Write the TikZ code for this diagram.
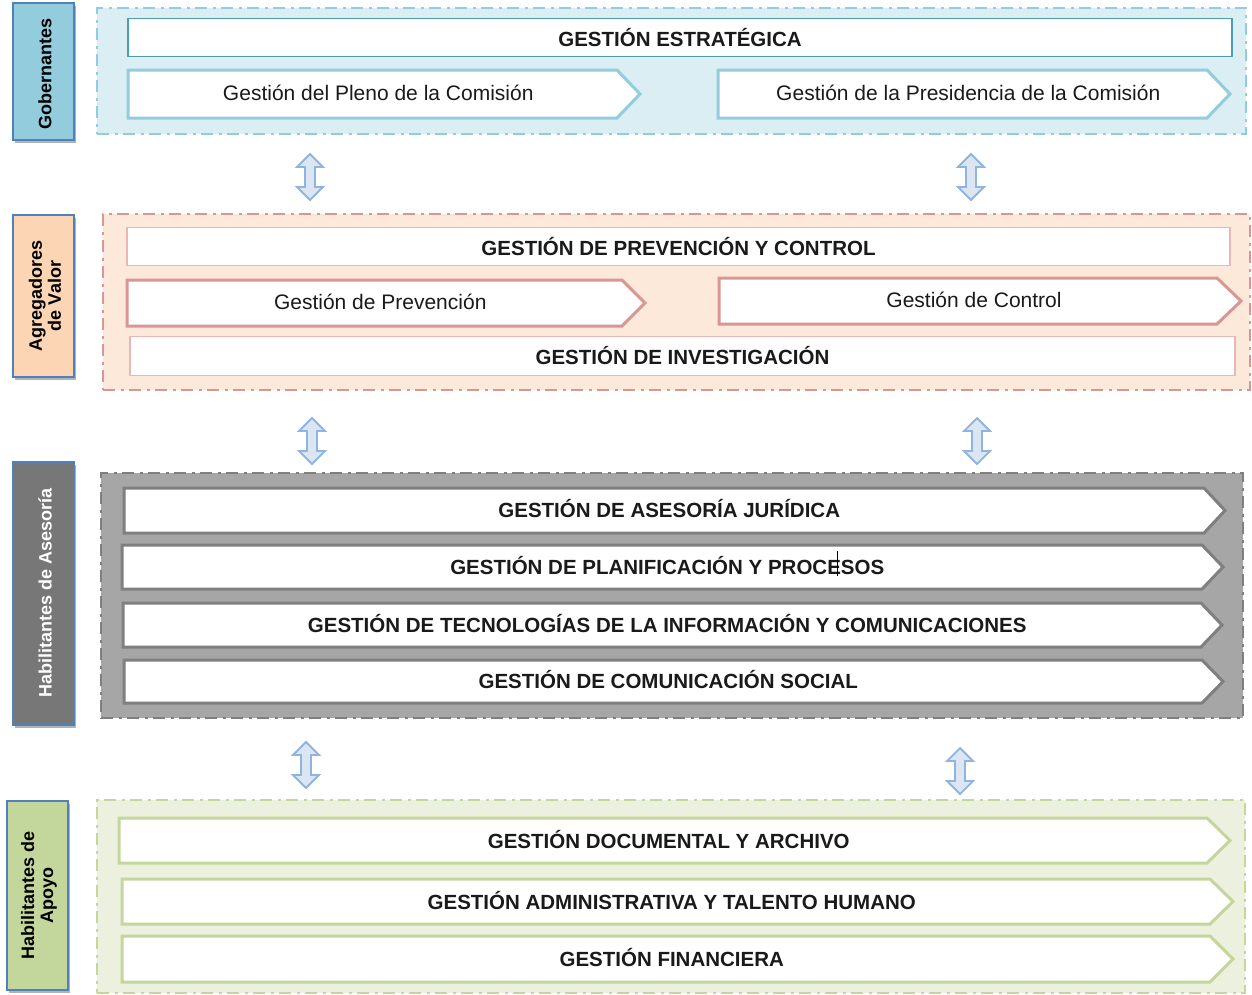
\documentclass[tikz,border=0pt]{standalone}
\usepackage{fontspec}
\setmainfont{Liberation Sans}
\usetikzlibrary{shadows}
\definecolor{blueFill}{HTML}{DAEEF3}
\definecolor{blueLine}{HTML}{93CDDD}
\definecolor{blueDark}{HTML}{4A9DB3}
\definecolor{lblBlue}{HTML}{93CDDD}
\definecolor{lblBorder}{HTML}{4F81BD}
\definecolor{peachFill}{HTML}{FDE9D9}
\definecolor{peachLine}{HTML}{D99694}
\definecolor{peachThin}{HTML}{E6B9B8}
\definecolor{lblPeach}{HTML}{FCD5B5}
\definecolor{grayFill}{HTML}{A6A6A6}
\definecolor{grayLine}{HTML}{7F7F7F}
\definecolor{lblGray}{HTML}{777777}
\definecolor{greenFill}{HTML}{EBF1DE}
\definecolor{greenLine}{HTML}{C3D69B}
\definecolor{lblGreen}{HTML}{C3D69B}
\definecolor{arrFill}{HTML}{DCE6F2}
\definecolor{arrLine}{HTML}{8EB4E3}
\definecolor{txtCol}{HTML}{1A1A1A}

% rectangle node from corners
\newcommand\rectnode[7]{\node[#2, minimum width={(#5-#3)*1pt}, minimum height={(#6-#4)*1pt}] (#1) at ({(#3+#5)/2},{(#4+#6)/2}) {#7};}
% pentagon (chevron) arrow with a named text node
\newcommand\pentnode[8]{%
  \draw[#2] (#3,#4) -- (#5-#8,#4) -- (#5,{(#4+#6)/2}) -- (#5-#8,#6) -- (#3,#6) -- cycle;
  \node[txt] (#1) at ({(#3+#5-#8/2)/2},{(#4+#6)/2}) {#7};}
% vertical double block arrow
\newcommand\vdbl[3]{\draw[dblarr] (#1,#2) -- (#1+13,#2+13) -- (#1+5,#2+13) -- (#1+5,#3-13) -- (#1+13,#3-13) -- (#1,#3) -- (#1-13,#3-13) -- (#1-5,#3-13) -- (#1-5,#2+13) -- (#1-13,#2+13) -- cycle;}

\begin{document}
\begin{tikzpicture}[x=1pt,y=-1pt,
  every node/.style={inner sep=0pt, outer sep=0pt},
  txt/.style={text=txtCol, font=\fontsize{21}{24}\selectfont, yshift=1.5pt},
  captxt/.style={text=txtCol, font=\fontsize{20.5}{24}\selectfont\bfseries, yshift=1.5pt},
  grp/.style={line width=2.6pt, dash pattern=on 12pt off 5.5pt on 3pt off 5.5pt},
  lbl/.style={draw=lblBorder, line width=1.2pt, drop shadow={shadow xshift=2pt, shadow yshift=-2.5pt, opacity=0.3, fill=black}},
  lbltxt/.style={rotate=90, align=center, font=\fontsize{18}{19}\selectfont\bfseries, text=black},
  thinblue/.style={draw=blueDark, line width=1.4pt, fill=white, captxt},
  thinpeach/.style={draw=peachThin, line width=1.6pt, fill=white, captxt},
  pblue/.style={draw=blueLine, line width=3pt, fill=white, line join=miter},
  ppeach/.style={draw=peachLine, line width=3pt, fill=white, line join=miter},
  pgray/.style={draw=grayLine, line width=3pt, fill=white, line join=miter},
  pgreen/.style={draw=greenLine, line width=3pt, fill=white, line join=miter},
  dblarr/.style={draw=arrLine, line width=1.8pt, fill=arrFill, line join=miter}]
\useasboundingbox (0,0) rectangle (1252,994);

% ---------- group containers ----------
\rectnode{g1}{grp, draw=blueLine, fill=blueFill}{97}{8}{1246}{134}{}
\rectnode{g2}{grp, draw=peachLine, fill=peachFill}{103}{214}{1250}{390}{}
\rectnode{g3}{grp, draw=grayLine, fill=grayFill}{101}{473}{1243}{718}{}
\rectnode{g4}{grp, draw=greenLine, fill=greenFill}{97}{800}{1245}{993}{}

% ---------- side labels ----------
\rectnode{l1}{lbl, fill=lblBlue}{13}{3}{74}{140}{}
\node[lbltxt] (l1t) at (45,74) {Gobernantes};
\rectnode{l2}{lbl, fill=lblPeach}{13}{215}{74}{377}{}
\node[lbltxt] (l2t) at (45,296) {Agregadores\\de Valor};
\rectnode{l3}{lbl, fill=lblGray}{13}{462}{74}{725}{}
\node[lbltxt, text=white] (l3t) at (45,593) {Habilitantes de Asesoría};
\rectnode{l4}{lbl, fill=lblGreen}{7}{801}{68}{990}{}
\node[lbltxt] (l4t) at (39,895) {Habilitantes de\\Apoyo};

% ---------- Gobernantes ----------
\rectnode{estr}{thinblue}{128}{20}{1232}{58}{GESTIÓN ESTRATÉGICA}
\pentnode{pleno}{pblue}{128}{70}{640}{118}{Gestión del Pleno de la Comisión}{23}
\pentnode{presi}{pblue}{718}{70}{1230}{118}{Gestión de la Presidencia de la Comisión}{23}

% ---------- Agregadores de Valor ----------
\rectnode{prevctrl}{thinpeach}{127}{229}{1230}{267}{GESTIÓN DE PREVENCIÓN Y CONTROL}
\pentnode{prev}{ppeach}{127}{280}{645}{326}{Gestión de Prevención}{23}
\pentnode{ctrl}{ppeach}{719}{278}{1241}{324}{Gestión de Control}{24}
\rectnode{inv}{thinpeach}{130}{338}{1235}{377}{GESTIÓN DE INVESTIGACIÓN}

% ---------- Habilitantes de Asesoría ----------
\tikzset{txt/.style={captxt}}
\pentnode{jur}{pgray}{124}{488}{1225}{533}{GESTIÓN DE ASESORÍA JURÍDICA}{21}
\pentnode{plan}{pgray}{122}{545}{1223}{589}{GESTIÓN DE PLANIFICACIÓN Y PROCESOS}{21}
\pentnode{tic}{pgray}{123}{603}{1222}{647}{GESTIÓN DE TECNOLOGÍAS DE LA INFORMACIÓN Y COMUNICACIONES}{21}
\pentnode{com}{pgray}{124}{660}{1223}{703}{GESTIÓN DE COMUNICACIÓN SOCIAL}{21}
\draw[black, line width=0.8pt] (837,551) -- (837,576);

% ---------- Habilitantes de Apoyo ----------
\pentnode{doc}{pgreen}{119}{818}{1230}{863}{GESTIÓN DOCUMENTAL Y ARCHIVO}{23}
\pentnode{adm}{pgreen}{122}{879}{1233}{924}{GESTIÓN ADMINISTRATIVA Y TALENTO HUMANO}{23}
\pentnode{fin}{pgreen}{122}{936}{1233}{982}{GESTIÓN FINANCIERA}{23}

% ---------- double arrows ----------
\vdbl{310}{154}{200}
\vdbl{971}{154}{200}
\vdbl{312}{418}{464}
\vdbl{977}{418}{464}
\vdbl{306}{742}{788}
\vdbl{960}{748}{794}
\end{tikzpicture}
\end{document}
